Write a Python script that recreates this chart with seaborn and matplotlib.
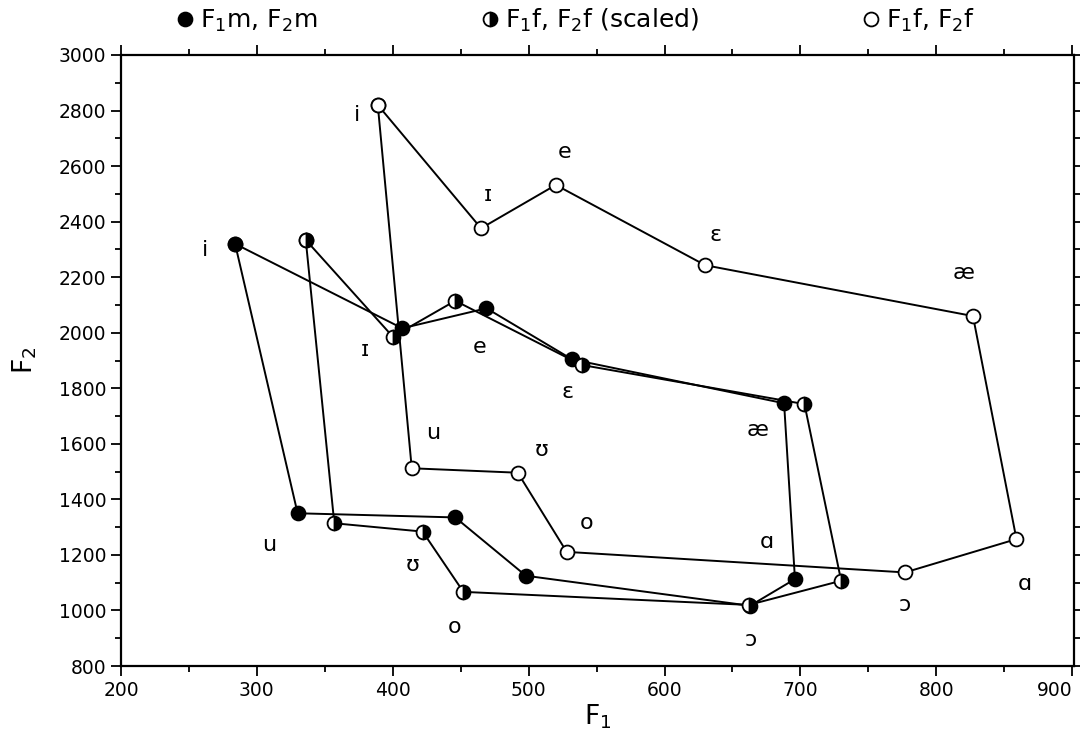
import pandas as pd
import seaborn as sns
import matplotlib.pyplot as plt
from matplotlib.lines import Line2D
from matplotlib.ticker import MultipleLocator

# ── Data ──────────────────────────────────────────────────────────────────────
vowels = ["i", "ɪ", "e", "ɛ", "æ", "ɑ", "ɔ", "o", "ʊ", "u"]

f1_m = [284, 407, 469, 532, 688, 696, 663, 498, 446, 330]
f2_m = [2320, 2016, 2088, 1904, 1746, 1113, 1017, 1125, 1335, 1350]

f1_fs = [336, 400, 446, 539, 703, 730, 662, 452, 422, 357]
f2_fs = [2334, 1986, 2115, 1884, 1743, 1107, 1020, 1067, 1284, 1314]

f1_f = [389, 465, 520, 630, 827, 859, 777, 528, 492, 414]
f2_f = [2820, 2376, 2532, 2243, 2060, 1257, 1137, 1211, 1496, 1512]

x_ticks = [200, 300, 400, 500, 600, 700, 800, 900]

# label offsets in pixels (layout only)
off_m = [(-30, -6), (-37, -22), (-7, -39), (-5, -33), (-27, -27),
         (-28, 37), (1, -34), (-71, -51), (-43, -48), (-28, -32)]
off_f = [(-21, -10), (7, 33), (9, 33), (10, 30), (-9, 43),
         (8, -45), (0, -33), (20, 29), (24, 23), (21, 35)]


def closed(f1, f2):
    return pd.DataFrame({"F1": f1 + f1[:1], "F2": f2 + f2[:1]})


sns.set_style("ticks")
plt.rcParams["font.family"] = ["DejaVu Sans"]
plt.rcParams.update({"text.color": "black", "axes.labelcolor": "black",
                     "xtick.color": "black", "ytick.color": "black",
                     "axes.edgecolor": "black"})

fig = plt.figure(figsize=(10.8, 7.47), dpi=100)
ax = fig.add_axes([0.112, 0.1084, 0.882, 0.818])

mk = dict(marker="o", markersize=10, markeredgecolor="black", markeredgewidth=1.3)

sns.lineplot(data=closed(f1_m, f2_m), x="F1", y="F2", sort=False, estimator=None,
             color="black", linewidth=1.4, ax=ax, markerfacecolor="black", **mk)
sns.lineplot(data=closed(f1_fs, f2_fs), x="F1", y="F2", sort=False, estimator=None,
             color="black", linewidth=1.4, ax=ax, fillstyle="right",
             markerfacecolor="black", markerfacecoloralt="white", **mk)
sns.lineplot(data=closed(f1_f, f2_f), x="F1", y="F2", sort=False, estimator=None,
             color="black", linewidth=1.4, ax=ax, markerfacecolor="white", **mk)

for v, x, y, o in zip(vowels, f1_m, f2_m, off_m):
    ax.annotate(v, (x, y), xytext=o, textcoords="offset pixels",
                ha="center", va="center", fontsize=16)
for v, x, y, o in zip(vowels, f1_f, f2_f, off_f):
    ax.annotate(v, (x, y), xytext=o, textcoords="offset pixels",
                ha="center", va="center", fontsize=16)

ax.set_xlim(200, 901)
ax.set_ylim(800, 3000)
ax.set_xticks(x_ticks)
ax.xaxis.set_minor_locator(MultipleLocator(50))
ax.yaxis.set_major_locator(MultipleLocator(200))
ax.yaxis.set_minor_locator(MultipleLocator(100))
ax.tick_params(which="both", direction="out", top=True, right=True,
               width=1.3, labelsize=13.5)
ax.tick_params(which="major", length=7)
ax.tick_params(which="minor", length=4)
for s in ax.spines.values():
    s.set_linewidth(1.6)

ax.set_xlabel("F$_1$", fontsize=19, labelpad=2)
ax.set_ylabel("F$_2$", fontsize=19, labelpad=14)

ax.get_xticklabels()[-1].set_horizontalalignment("right")

handles = [
    Line2D([], [], linestyle="none", markerfacecolor="black", **mk),
    Line2D([], [], linestyle="none", fillstyle="right", markerfacecolor="black",
           markerfacecoloralt="white", **mk),
    Line2D([], [], linestyle="none", markerfacecolor="white", **mk),
]
labels = ["F$_1$m, F$_2$m", "F$_1$f, F$_2$f (scaled)", "F$_1$f, F$_2$f"]
fig.legend(handles, labels, loc="upper left", bbox_to_anchor=(0.155, 1.004),
           ncol=3, frameon=False, fontsize=18, handlelength=0.6,
           handletextpad=0.3, columnspacing=6.6, borderaxespad=0)

plt.savefig("out.png", dpi=100)
